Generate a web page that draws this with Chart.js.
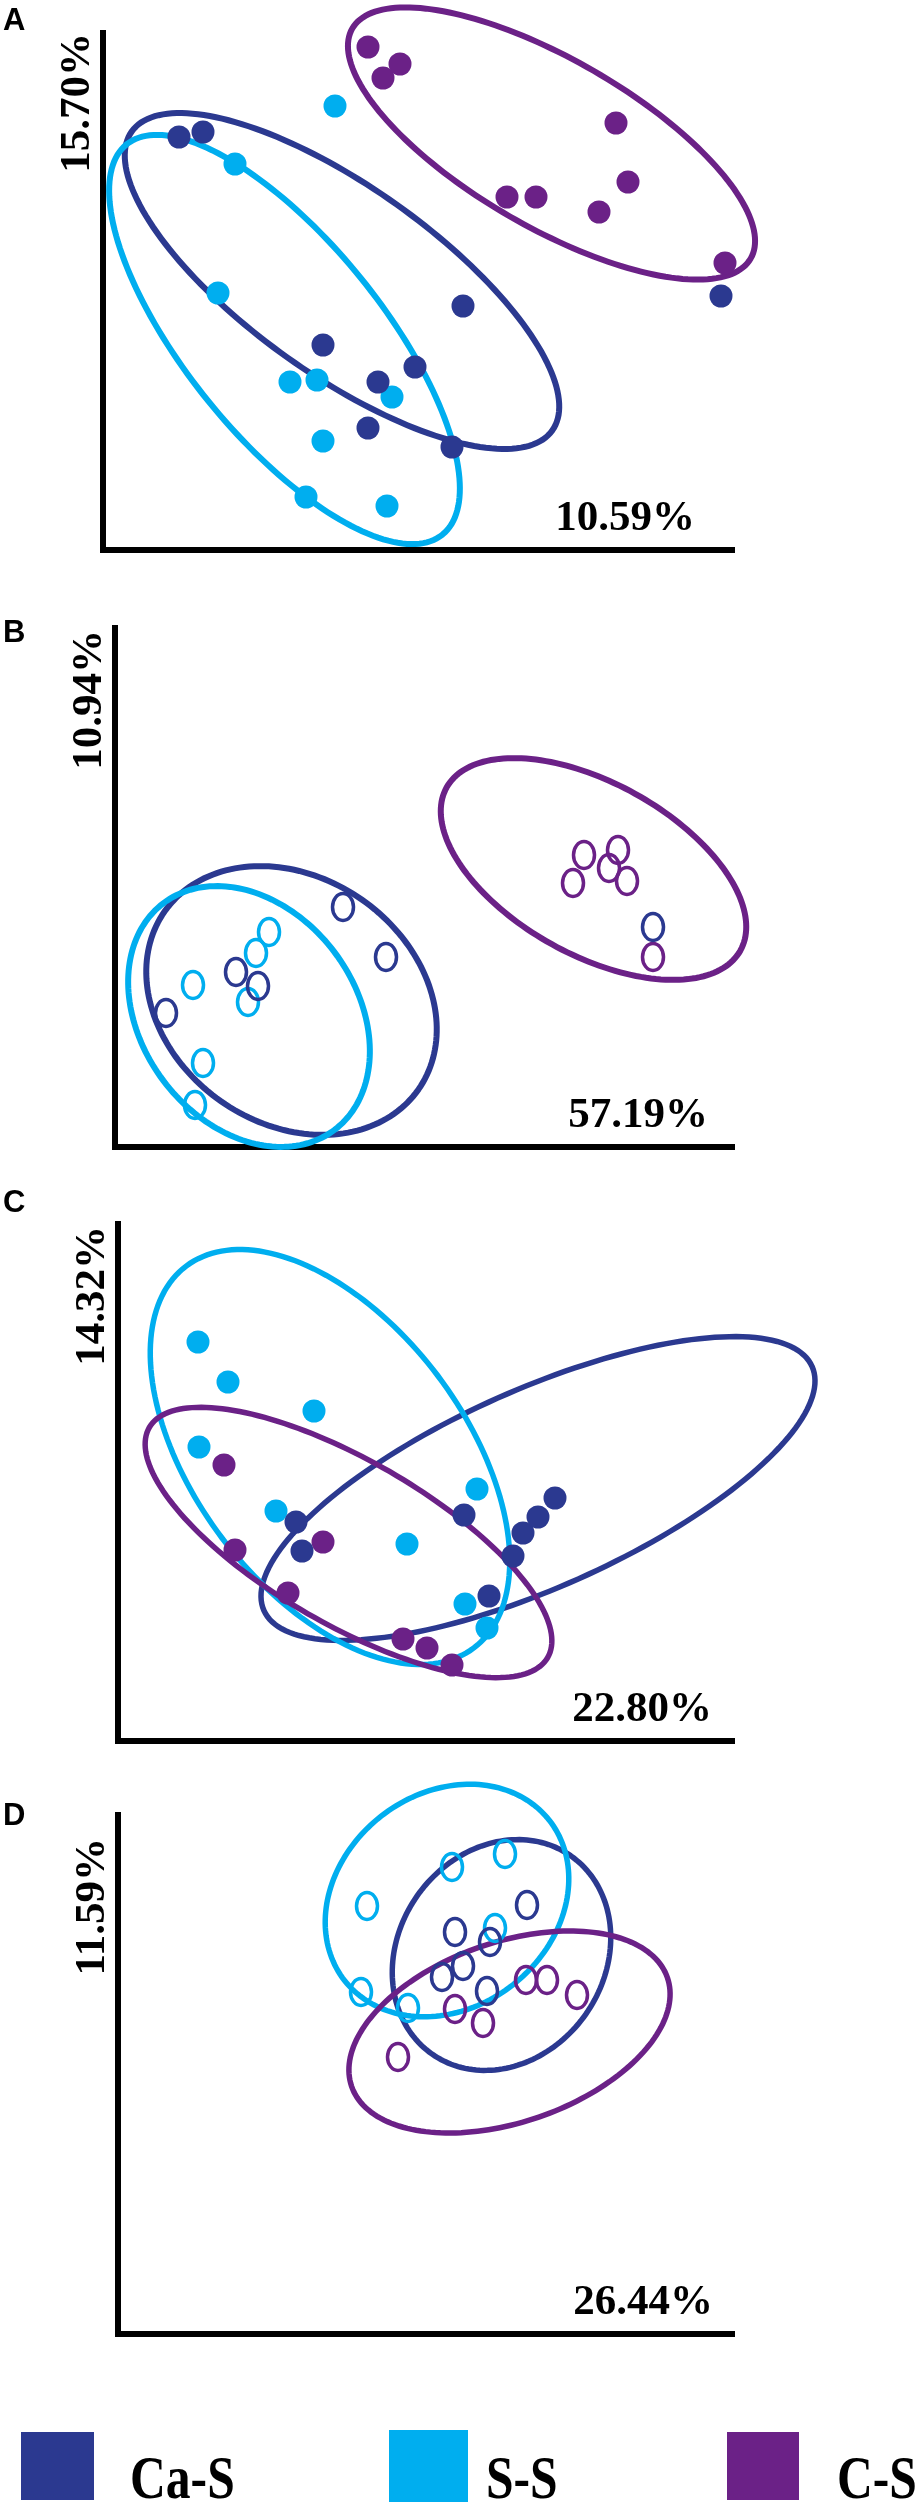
<!DOCTYPE html>
<html>
<head>
<meta charset="utf-8">
<script src="https://cdn.jsdelivr.net/npm/chart.js@4.4.1/dist/chart.umd.min.js"></script>
<style>
  body { margin: 0; background: #fff; }
  #page { position: relative; width: 920px; height: 2507px; overflow: hidden; background: #fff; }
  #page canvas { position: absolute; left: 0; }
  .letter { position: absolute; left: 3px; font: bold 31px "Liberation Sans", Arial, sans-serif; line-height: 31px; color: #000; }
  .swatch { position: absolute; }
  .key { position: absolute; font: bold 62px "Liberation Serif", "Times New Roman", serif; line-height: 62px;
         transform: scaleX(0.8); transform-origin: left top; color: #000; white-space: nowrap; }
</style>
</head>
<body>
<div id="page">
  <canvas id="panelA" width="920" height="600" style="top:0px"></canvas>
  <canvas id="panelB" width="920" height="590" style="top:600px"></canvas>
  <canvas id="panelC" width="920" height="600" style="top:1185px"></canvas>
  <canvas id="panelD" width="920" height="600" style="top:1775px"></canvas>
</div>
<script>
const groups = ['Ca-S', 'S-S', 'C-S'];
const panelLetters = ['A', 'B', 'C', 'D'];
const xAxisLabels = ['10.59%', '57.19%', '22.80%', '26.44%'];
const yAxisLabels = ['15.70%', '10.94%', '14.32%', '11.59%'];

// ordination scores, [axis 1, axis 2]
const a_CaS = [[7.6,41.3],[10.0,41.8],[36.0,24.4],[22.0,20.5],[27.5,16.8],[31.2,18.3],[26.5,12.2],[34.9,10.3],[61.8,25.4]];
const a_SS  = [[23.2,44.4],[13.2,38.6],[11.5,25.7],[18.7,16.8],[21.4,17.0],[28.9,15.3],[22.0,10.9],[20.3,5.3],[28.4,4.4]];
const a_CS  = [[26.5,50.3],[28.0,47.2],[29.7,48.6],[51.3,42.7],[52.5,36.8],[40.4,35.3],[43.3,35.3],[49.6,33.8],[62.2,28.7]];

const b_CaS = [[22.8,24.0],[27.1,19.0],[12.1,17.5],[14.3,16.1],[5.1,13.4],[53.8,22.0]];
const b_SS  = [[15.4,21.5],[14.1,19.4],[7.8,16.2],[13.3,14.5],[8.8,8.4],[8.0,4.2]];
const b_CS  = [[46.9,29.2],[45.8,26.4],[50.3,29.7],[49.4,27.9],[51.2,26.6],[53.8,19.0]];

const c_CaS = [[17.8,21.9],[18.4,19.0],[34.6,22.6],[39.5,18.5],[40.5,20.8],[42.0,22.4],[43.7,24.3],[37.1,14.5],[64.5,39.8]];
const c_SS  = [[8.0,39.9],[11.0,35.9],[19.6,33.0],[8.1,29.4],[15.8,23.0],[28.9,19.7],[35.9,25.2],[34.7,13.7],[36.9,11.3]];
const c_CS  = [[10.6,27.6],[11.7,19.1],[20.5,19.9],[17.0,14.8],[28.5,10.2],[30.9,9.3],[33.4,7.6]];

const d_CaS = [[40.9,42.9],[33.7,40.2],[37.2,39.2],[32.4,35.7],[34.5,36.8],[36.9,34.3]];
const d_SS  = [[24.9,42.8],[33.4,46.7],[38.7,48.0],[37.7,40.6],[24.3,34.2],[29.0,32.6]];
const d_CS  = [[40.8,35.4],[42.9,35.4],[45.9,33.9],[33.7,32.5],[36.5,31.1],[28.0,27.7]];

// group ellipses: [centre x, centre y, semi-major, semi-minor, tilt deg]
const a_ell = [[23.9,26.9,25.8,9.4,-35.4],[18.15,21.05,25.1,9.8,-51],[44.85,40.65,23.0,8.4,-30]];
const b_ell = [[17.65,14.65,15.5,12.3,-35],[13.4,13.05,14.2,10.7,-53],[47.85,27.8,16.8,8.6,-29]];
const c_ell = [[42.0,25.25,30.0,9.9,24],[21.2,28.4,23.9,13.5,-53],[23.05,19.85,23.0,8.2,-30]];
const d_ell = [[38.35,37.9,12.1,10.3,55],[32.9,43.35,13.0,10.7,38],[39.15,30.2,16.7,9.0,19]];

const colors = ['#2b3990', '#00aeef', '#6b2187'];

const panels = [
  {id:'panelA', pad:{left:103,top:33,right:186,bottom:50}, xMax:63.1, yMax:51.7, points:[a_CaS,a_SS,a_CS], ellipses:a_ell, hollow:false, line:6, xLabelRight:695, yShift:0, letterTop:4},
  {id:'panelB', pad:{left:115,top:28,right:186,bottom:43}, xMax:61.9, yMax:51.9, points:[b_CaS,b_SS,b_CS], ellipses:b_ell, hollow:true, line:6, xLabelRight:708, yShift:2, letterTop:616},
  {id:'panelC', pad:{left:118,top:39,right:186,bottom:44}, xMax:61.6, yMax:51.7, points:[c_CaS,c_SS,c_CS], ellipses:c_ell, hollow:false, line:5.5, xLabelRight:712, yShift:2, letterTop:1186},
  {id:'panelD', pad:{left:118,top:40,right:186,bottom:41}, xMax:61.6, yMax:51.9, points:[d_CaS,d_SS,d_CS], ellipses:d_ell, hollow:true, line:5.5, xLabelRight:713, yShift:23, letterTop:1799}
];

const legendSpots = [
  {x:21, y:2432, w:73, h:68, tx:130},
  {x:389, y:2430, w:79, h:72, tx:486},
  {x:727, y:2432, w:72, h:68, tx:837}
];

function ring(color) {
  const c = document.createElement('canvas');
  c.width = 30;
  c.height = 36;
  const g = c.getContext('2d');
  g.strokeStyle = color;
  g.lineWidth = 3.5;
  g.beginPath();
  g.ellipse(15, 18, 10.5, 13.5, 0, 0, 2 * Math.PI);
  g.stroke();
  return c;
}

function axis(max, horizontal) {
  return {
    type: 'linear',
    min: 0,
    max: max,
    grid: {display: false, drawTicks: false},
    ticks: {display: false},
    border: {display: true, color: '#000', width: 6},
    afterFit: s => { if (horizontal) s.height = 0; else s.width = 0; }
  };
}

function decor(p, i) {
  return {
    id: 'decor' + i,
    beforeDatasetsDraw(chart) {
      const ctx = chart.ctx;
      const xs = chart.scales.x, ys = chart.scales.y;
      p.ellipses.forEach((e, g) => {
        const [cx, cy, a, b, deg] = e;
        const r = deg * Math.PI / 180;
        ctx.save();
        ctx.beginPath();
        for (let k = 0; k <= 180; k++) {
          const t = k / 180 * 2 * Math.PI;
          const dx = a * Math.cos(t), dy = b * Math.sin(t);
          const px = xs.getPixelForValue(cx + dx * Math.cos(r) - dy * Math.sin(r));
          const py = ys.getPixelForValue(cy + dx * Math.sin(r) + dy * Math.cos(r));
          if (k) ctx.lineTo(px, py); else ctx.moveTo(px, py);
        }
        ctx.closePath();
        ctx.lineWidth = p.line;
        ctx.strokeStyle = colors[g];
        ctx.stroke();
        ctx.restore();
      });
    },
    afterDraw(chart) {
      const {ctx, chartArea} = chart;
      ctx.save();
      ctx.fillStyle = '#000';
      ctx.font = 'bold 43px "Liberation Serif", "Times New Roman", serif';
      ctx.textAlign = 'right';
      ctx.textBaseline = 'alphabetic';
      ctx.fillText(xAxisLabels[i], p.xLabelRight, chartArea.bottom - 20);
      ctx.translate(chartArea.left - 14, chartArea.top + p.yShift);
      ctx.rotate(-Math.PI / 2);
      ctx.fillText(yAxisLabels[i], 0, 0);
      ctx.restore();
    }
  };
}

const page = document.getElementById('page');

panels.forEach((p, i) => {
  const datasets = groups.map((g, k) => ({
    label: g,
    data: p.points[k].map(([x, y]) => ({x, y})),
    backgroundColor: colors[k],
    borderColor: colors[k],
    borderWidth: 0,
    pointRadius: p.hollow ? 12 : 11.5,
    pointStyle: p.hollow ? ring(colors[k]) : 'circle',
    clip: false
  }));

  new Chart(document.getElementById(p.id), {
    type: 'scatter',
    data: {datasets: datasets},
    options: {
      responsive: false,
      animation: false,
      events: [],
      layout: {padding: p.pad},
      plugins: {legend: {display: false}, tooltip: {enabled: false}},
      scales: {x: axis(p.xMax, true), y: axis(p.yMax, false)}
    },
    plugins: [decor(p, i)]
  });

  const letter = document.createElement('div');
  letter.className = 'letter';
  letter.style.top = p.letterTop + 'px';
  letter.textContent = panelLetters[i];
  page.appendChild(letter);
});

groups.forEach((g, k) => {
  const s = legendSpots[k];
  const box = document.createElement('div');
  box.className = 'swatch';
  box.style.cssText = `left:${s.x}px;top:${s.y}px;width:${s.w}px;height:${s.h}px;background:${colors[k]}`;
  page.appendChild(box);
  const key = document.createElement('div');
  key.className = 'key';
  key.style.left = s.tx + 'px';
  key.style.top = '2446px';
  key.textContent = g;
  page.appendChild(key);
});
</script>
</body>
</html>
